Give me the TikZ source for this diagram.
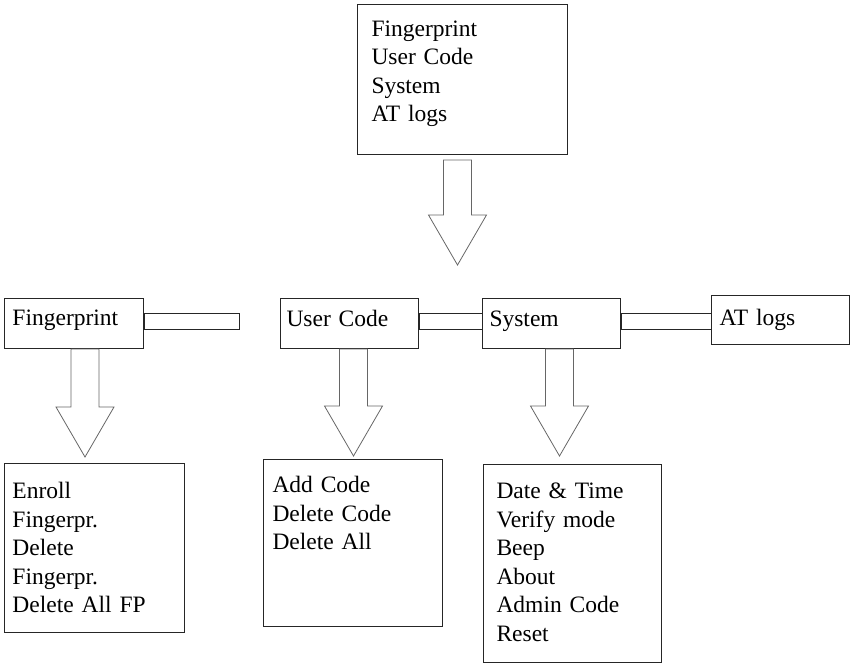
\documentclass[tikz,border=0pt]{standalone}
\usepackage{fontspec}
\setmainfont{Liberation Serif}
\usetikzlibrary{calc}

% hollow block arrow, from the shaft top #1 down to the tip #2
\newcommand{\hollowarrow}[2]{%
  \draw[hollow] ($(#1)+(-14,0)$) -- ($(#2)+(-14,-50)$) -- ($(#2)+(-29,-50)$) -- (#2)
    -- ($(#2)+(29,-50)$) -- ($(#2)+(14,-50)$) -- ($(#1)+(14,0)$) -- cycle;
}

\begin{document}
\begin{tikzpicture}[x=1pt, y=-1pt,
  box/.style={draw=black!85, line width=1pt, anchor=north west, align=left, inner ysep=0pt,
    font=\fontsize{23.5}{28.5}\selectfont},
  bar/.style={draw=black!85, line width=1pt},
  hollow/.style={draw=black!60, line width=0.8pt, line join=miter}]
  \useasboundingbox (0,0) rectangle (850,663);

  % main menu
  \node (menu) [box, inner xsep=14pt, text width=182pt, text height=32pt, text depth=118pt] at (357,4)
    {Fingerprint\\User Code\\System\\AT logs};

  % first level
  \node (fp) [box, inner xsep=8pt, text width=123pt, text height=27pt, text depth=23pt] at (4,298) {Fingerprint};
  \node (uc) [box, inner xsep=6pt, text width=126pt, text height=28pt, text depth=22pt] at (280,298) {User Code};
  \node (sys) [box, inner xsep=7pt, text width=124pt, text height=28pt, text depth=22pt] at (482,298) {System};
  \node (at) [box, inner xsep=8pt, text width=122pt, text height=30pt, text depth=19pt] at (711,295) {AT logs};

  % sub menus
  \node (fpsub) [box, inner xsep=8pt, text width=164pt, text height=35pt, text depth=134pt] at (4,463)
    {Enroll\\Fingerpr.\\Delete\\Fingerpr.\\Delete All FP};
  \node (ucsub) [box, inner xsep=9pt, text width=161pt, text height=33pt, text depth=134pt] at (263,459)
    {Add Code\\Delete Code\\Delete All};
  \node (syssub) [box, inner xsep=13pt, text width=152pt, text height=34pt, text depth=164pt] at (483,464)
    {Date \& Time\\Verify mode\\Beep\\About\\Admin Code\\Reset};

  % bars between the first level boxes
  \coordinate (fpend) at (239,329);
  \draw[bar] ([yshift=-15pt]fp.north east) rectangle (fpend);
  \draw[bar] ([yshift=-15pt]uc.north east) rectangle ($(uc.north east -| sys.west)+(0,31)$);
  \draw[bar] ([yshift=-15pt]sys.north east) rectangle ($(sys.north east -| at.west)+(0,31)$);

  % arrows
  \coordinate (menuout) at ($(menu.south)+(-5,5)$);
  \coordinate (menutip) at ($(menuout |- uc.north)+(0,-33)$);
  \hollowarrow{menuout}{menutip}
  \coordinate (fpout) at ($(fp.south)+(11,0)$);
  \coordinate (fptip) at ($(fpout |- fpsub.north)+(0,-6)$);
  \hollowarrow{fpout}{fptip}
  \coordinate (ucout) at ($(uc.south)+(4,0)$);
  \coordinate (uctip) at ($(ucout |- ucsub.north)+(0,-3)$);
  \hollowarrow{ucout}{uctip}
  \coordinate (sysout) at ($(sys.south)+(8,0)$);
  \coordinate (systip) at ($(sysout |- syssub.north)+(0,-8)$);
  \hollowarrow{sysout}{systip}
\end{tikzpicture}
\end{document}
